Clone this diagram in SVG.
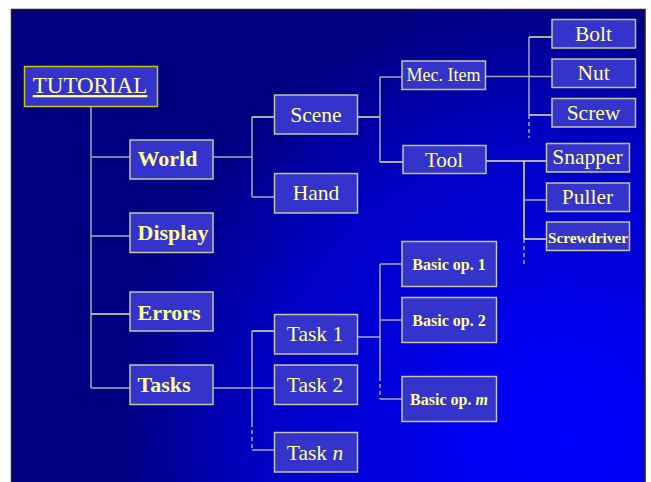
<svg xmlns="http://www.w3.org/2000/svg" width="651" height="482" viewBox="0 0 651 482">
<defs>
<radialGradient id="bg" gradientUnits="userSpaceOnUse" cx="560" cy="440" r="460">
<stop offset="0" stop-color="#0000ff"/>
<stop offset="0.25" stop-color="#0000f0"/>
<stop offset="0.35" stop-color="#0000e0"/>
<stop offset="0.66" stop-color="#0000c4"/>
<stop offset="0.93" stop-color="#000088"/>
<stop offset="1" stop-color="#000080"/>
</radialGradient>
<style>
.box{fill:#3434cc;stroke:#c4c4a4;stroke-width:1.5}
.root{fill:#3434cc;stroke:#c8c800;stroke-width:1.5}
.t{fill:#ffff99;font-family:"Liberation Serif","Times New Roman",serif;text-anchor:middle}
.tb{fill:#ffff99;font-family:"Liberation Serif","Times New Roman",serif;font-weight:bold;font-size:22px}
.g{stroke:#a8a8b0;stroke-width:1.5;fill:none}
.y{stroke:#e8e8a0;stroke-width:1.5;fill:none}
.d{stroke:#a8a8b0;stroke-width:1.5;fill:none;stroke-dasharray:4 3}
</style>
</defs>
<rect x="0" y="0" width="651" height="482" fill="#ffffff"/>
<rect x="11.5" y="9.5" width="633.5" height="480" fill="url(#bg)" stroke="#222222" stroke-width="1.5"/>

<g id="connectors">
<path class="g" d="M91 107 V388 M91 157 H130 M91 236 H130 M91 388 H130"/>
<path class="y" d="M91 314 H130"/>
<path class="g" d="M213 157 H252 M252 117 V197 M252 197 H274"/>
<path class="y" d="M252 117 H274"/>
<path class="y" d="M358 117 H380 M380 162 H403"/>
<path class="g" d="M380 77 V162 M380 77 H402"/>
<path class="g" d="M486 76.5 H552 M529 37 V115"/>
<path class="y" d="M529 37 H552 M529 115 H552"/>
<path class="d" d="M529 115 V138"/>
<path class="y" d="M486 161 H546 M524 161 V239 M524 239 H546"/>
<path class="g" d="M524 200 H546"/>
<path class="d" d="M524 239 V267"/>
<path class="g" d="M213 388 H274 M252 331 V423 M252 450 H274"/>
<path class="y" d="M252 331 H274"/>
<path class="d" d="M252 423 V450"/>
<path class="g" d="M358 337 H380 M380 264 V377 M380 264 H402 M380 320 H402 M380 399 H402"/>
<path class="d" d="M380 377 V399"/>
</g>

<g id="tutorial">
<rect class="root" x="24.5" y="66.5" width="133" height="40"/>
<text class="t" x="90" y="93" font-size="23" text-decoration="underline">TUTORIAL</text>
</g>
<g id="world"><rect class="box" x="130" y="140" width="83" height="39"/><text class="tb" x="137.5" y="166">World</text></g>
<g id="display"><rect class="box" x="130" y="213" width="83" height="39.5"/><text class="tb" x="137.5" y="240">Display</text></g>
<g id="errors"><rect class="box" x="130" y="292" width="83" height="39"/><text class="tb" x="137.5" y="319.5">Errors</text></g>
<g id="tasks"><rect class="box" x="130" y="365" width="83" height="39.5"/><text class="tb" x="137.5" y="392">Tasks</text></g>

<g id="scene"><rect class="box" x="274.5" y="95" width="83" height="39"/><text class="t" x="316" y="122" font-size="21.5">Scene</text></g>
<g id="hand"><rect class="box" x="274.5" y="173.5" width="83" height="39.5"/><text class="t" x="316" y="200" font-size="21.5">Hand</text></g>

<g id="mec-item"><rect class="box" x="402" y="61" width="83.5" height="28.5"/><text class="t" x="443.5" y="81" font-size="18">Mec. Item</text></g>
<g id="tool"><rect class="box" x="403" y="145.5" width="83" height="28"/><text class="t" x="444" y="166.5" font-size="21">Tool</text></g>

<g id="bolt"><rect class="box" x="552" y="19.5" width="83.5" height="28.5"/><text class="t" x="593.5" y="40.5" font-size="21.5">Bolt</text></g>
<g id="nut"><rect class="box" x="552" y="59" width="83.5" height="28.5"/><text class="t" x="593.5" y="80" font-size="21.5">Nut</text></g>
<g id="screw"><rect class="box" x="552" y="98.5" width="83.5" height="28.5"/><text class="t" x="593.5" y="119.5" font-size="21.5">Screw</text></g>

<g id="snapper"><rect class="box" x="546.5" y="143.5" width="83" height="28.5"/><text class="t" x="587.5" y="164" font-size="21.5">Snapper</text></g>
<g id="puller"><rect class="box" x="546.5" y="183" width="83" height="28.5"/><text class="t" x="587.5" y="204" font-size="21.5">Puller</text></g>
<g id="screwdriver"><rect class="box" x="546.5" y="222" width="83" height="28.5"/><text class="t" x="588" y="242.5" font-size="15.2" font-weight="bold">Screwdriver</text></g>

<g id="task-1"><rect class="box" x="274.5" y="314.5" width="83" height="39.5"/><text class="t" x="315" y="341" font-size="21.5">Task 1</text></g>
<g id="task-2"><rect class="box" x="274.5" y="365" width="83" height="39.5"/><text class="t" x="315" y="392" font-size="21.5">Task 2</text></g>
<g id="task-n"><rect class="box" x="274.5" y="432.5" width="83" height="39.5"/><text class="t" x="315" y="460" font-size="21.5">Task <tspan font-style="italic">n</tspan></text></g>

<g id="basic-op-1"><rect class="box" x="402" y="241.5" width="94.5" height="45"/><text class="t" x="449" y="270" font-size="16" font-weight="bold">Basic op. 1</text></g>
<g id="basic-op-2"><rect class="box" x="402" y="297.5" width="94.5" height="45"/><text class="t" x="449" y="325.5" font-size="16" font-weight="bold">Basic op. 2</text></g>
<g id="basic-op-m"><rect class="box" x="402" y="376.5" width="94.5" height="45"/><text class="t" x="449" y="405" font-size="16" font-weight="bold">Basic op. <tspan font-style="italic">m</tspan></text></g>
</svg>
